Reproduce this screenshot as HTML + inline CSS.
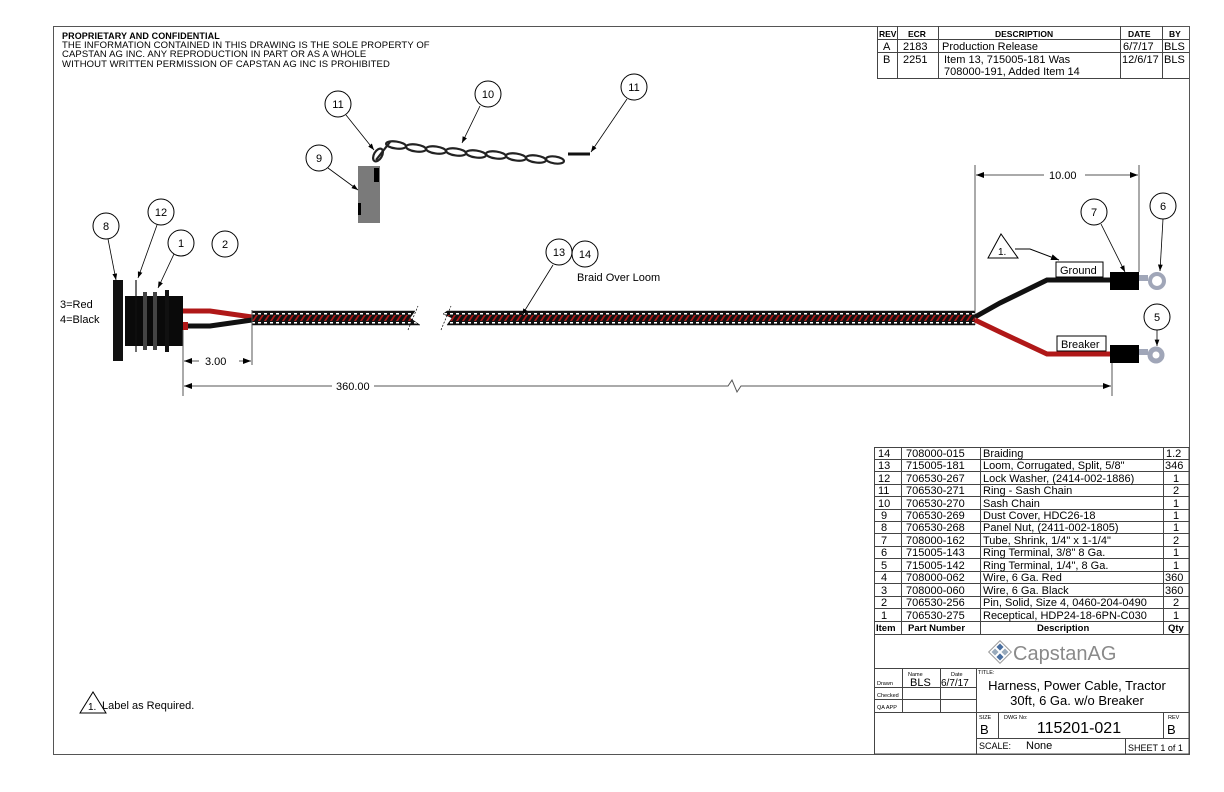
<!DOCTYPE html>
<html><head><meta charset="utf-8"><style>
body{margin:0;background:#fff}
svg{display:block}
text{font-family:"Liberation Sans",sans-serif;fill:#000}
</style></head><body>
<svg width="1224" height="792" viewBox="0 0 1224 792" xmlns="http://www.w3.org/2000/svg">
<defs>
<pattern id="br" width="6" height="14" patternUnits="userSpaceOnUse" y="311">
<rect width="6" height="14" fill="#111"/>
<rect x="0" y="2" width="3" height="1.5" fill="#fff"/>
<rect x="0" y="11" width="3" height="1.5" fill="#fff"/>
<path d="M0 10 L4 4 L6 4 L2 10Z" fill="#b01818"/>
</pattern>
<marker id="ar" markerWidth="8" markerHeight="6" refX="8" refY="3" orient="auto"><path d="M0 0L8 3L0 6Z" fill="#000"/></marker>
</defs>
<g fill="none" stroke="#555" stroke-width="1">
<rect x="53.5" y="26.5" width="1136" height="728"/>
</g>
<g font-size="9.5" letter-spacing="0.1">
<text x="62" y="39" font-size="9" font-weight="bold">PROPRIETARY AND CONFIDENTIAL</text>
<text x="62" y="48">THE INFORMATION CONTAINED IN THIS DRAWING IS THE SOLE PROPERTY OF</text>
<text x="62" y="57">CAPSTAN AG INC. ANY REPRODUCTION IN PART OR AS A WHOLE</text>
<text x="62" y="67">WITHOUT WRITTEN PERMISSION OF CAPSTAN AG INC IS PROHIBITED</text>
</g>

<!-- revision table -->
<g stroke="#444" stroke-width="1" fill="none">
<path d="M877.5 26.5V78.5H1189 M877 39.5H1189 M877 52.5H1189 M897.5 26V78 M938.5 26V78 M1120.5 26V78 M1162.5 26V78"/>
</g>
<g font-size="11">
<text x="879" y="37" font-size="8.5" font-weight="bold">REV</text>
<text x="908" y="37" font-size="8.5" font-weight="bold">ECR</text>
<text x="995" y="37" font-size="8.5" font-weight="bold">DESCRIPTION</text>
<text x="1128" y="37" font-size="8.5" font-weight="bold">DATE</text>
<text x="1169" y="37" font-size="8.5" font-weight="bold">BY</text>
<text x="883" y="50">A</text><text x="903" y="50">2183</text><text x="942" y="50">Production Release</text><text x="1123" y="50">6/7/17</text><text x="1164" y="50">BLS</text>
<text x="883" y="63">B</text><text x="903" y="63">2251</text><text x="944" y="63">Item 13, 715005-181 Was</text><text x="1122" y="63">12/6/17</text><text x="1164" y="63">BLS</text>
<text x="944" y="75">708000-191, Added Item 14</text>
</g>

<!-- parts list -->
<g stroke="#444" stroke-width="1" fill="none">
<rect x="874.5" y="447.5" width="314.5" height="306.5"/>
<path d="M874 459.5H1189M874 471.5H1189M874 484.5H1189M874 496.5H1189M874 509.5H1189M874 521.5H1189M874 533.5H1189M874 546.5H1189M874 558.5H1189M874 571.5H1189M874 583.5H1189M874 596.5H1189M874 608.5H1189M874 621.5H1189M874 634.5H1189M874 668.5H1189"/>
<path d="M901.5 447V634M980.5 447V634M1163.5 447V634"/>
<path d="M874 687.5H976M874 699.5H976M874 712.5H1189M902.5 668V712M940.5 668V712M976.5 668V754M976 738.5H1189M998.5 712V738M1163.5 712V738M1125.5 738V754"/>
</g>
<g font-size="11">
<text x="878" y="457">14</text><text x="906" y="457">708000-015</text><text x="983" y="457">Braiding</text><text x="1166" y="457">1.2</text>
<text x="878" y="469">13</text><text x="906" y="469">715005-181</text><text x="983" y="469">Loom, Corrugated, Split, 5/8"</text><text x="1165" y="469">346</text>
<text x="878" y="482">12</text><text x="906" y="482">706530-267</text><text x="983" y="482">Lock Washer, (2414-002-1886)</text><text x="1173" y="482">1</text>
<text x="878" y="494">11</text><text x="906" y="494">706530-271</text><text x="983" y="494">Ring - Sash Chain</text><text x="1173" y="494">2</text>
<text x="878" y="507">10</text><text x="906" y="507">706530-270</text><text x="983" y="507">Sash Chain</text><text x="1173" y="507">1</text>
<text x="881" y="519">9</text><text x="906" y="519">706530-269</text><text x="983" y="519">Dust Cover, HDC26-18</text><text x="1173" y="519">1</text>
<text x="881" y="531">8</text><text x="906" y="531">706530-268</text><text x="983" y="531">Panel Nut, (2411-002-1805)</text><text x="1173" y="531">1</text>
<text x="881" y="544">7</text><text x="906" y="544">708000-162</text><text x="983" y="544">Tube, Shrink, 1/4" x 1-1/4"</text><text x="1173" y="544">2</text>
<text x="881" y="556">6</text><text x="906" y="556">715005-143</text><text x="983" y="556">Ring Terminal, 3/8" 8 Ga.</text><text x="1173" y="556">1</text>
<text x="881" y="569">5</text><text x="906" y="569">715005-142</text><text x="983" y="569">Ring Terminal, 1/4", 8 Ga.</text><text x="1173" y="569">1</text>
<text x="881" y="581">4</text><text x="906" y="581">708000-062</text><text x="983" y="581">Wire, 6 Ga. Red</text><text x="1165" y="581">360</text>
<text x="881" y="594">3</text><text x="906" y="594">708000-060</text><text x="983" y="594">Wire, 6 Ga. Black</text><text x="1165" y="594">360</text>
<text x="881" y="606">2</text><text x="906" y="606">706530-256</text><text x="983" y="606">Pin, Solid, Size 4, 0460-204-0490</text><text x="1173" y="606">2</text>
<text x="881" y="619">1</text><text x="906" y="619">706530-275</text><text x="983" y="619">Receptical, HDP24-18-6PN-C030</text><text x="1173" y="619">1</text>
<g font-weight="bold" font-size="9.5"><text x="876" y="631">Item</text><text x="908" y="631">Part Number</text><text x="1037" y="631">Description</text><text x="1168" y="631">Qty</text></g>
</g>
<!-- logo -->
<g transform="translate(1000,652) rotate(45)">
<rect x="-8" y="-8" width="16" height="16" fill="#fff" stroke="#999"/>
<rect x="-6" y="-6" width="5" height="5" fill="#4a6fa0"/><rect x="1" y="-6" width="5" height="5" fill="#9ab"/>
<rect x="-6" y="1" width="5" height="5" fill="#9ab"/><rect x="1" y="1" width="5" height="5" fill="#4a6fa0"/>
</g>
<text x="1013" y="660" font-size="20" style="fill:#8a8a8a">CapstanAG</text>
<g font-size="5.5" style="fill:#444">
<text x="908" y="676">Name</text><text x="951" y="676">Date</text><text x="978" y="674">TITLE:</text>
<text x="877" y="685">Drawn</text><text x="877" y="697">Checked</text><text x="877" y="709">QA APP</text>
<text x="979" y="719">SIZE</text><text x="1004" y="719">DWG No:</text><text x="1168" y="719">REV</text>
</g>
<text x="910" y="686" font-size="11">BLS</text><text x="941" y="686" font-size="10">6/7/17</text>
<text x="1077" y="690" font-size="13" text-anchor="middle">Harness, Power Cable, Tractor</text>
<text x="1077" y="705" font-size="13" text-anchor="middle">30ft, 6 Ga. w/o Breaker</text>
<text x="980" y="734" font-size="13">B</text><text x="1167" y="734" font-size="13">B</text>
<text x="1079" y="733" font-size="16" text-anchor="middle">115201-021</text>
<text x="979" y="749" font-size="9">SCALE:</text><text x="1026" y="749" font-size="11">None</text>
<text x="1128" y="751" font-size="9">SHEET 1 of 1</text>

<!-- note -->
<path d="M80 713L93 692L106 713Z" fill="none" stroke="#000"/>
<text x="88" y="710" font-size="10">1.</text>
<text x="102" y="709" font-size="11">Label as Required.</text>

<!-- connector -->
<rect x="113" y="280" width="10" height="81" fill="#111"/>
<rect x="125" y="296" width="58" height="50" fill="#0a0a0a"/>
<rect x="143" y="292" width="4" height="58" fill="#444"/>
<rect x="153" y="292" width="4" height="58" fill="#444"/>
<rect x="165" y="290" width="4" height="62" fill="#111"/>
<line x1="136" y1="280" x2="136" y2="352" stroke="#111" stroke-width="1.2"/>
<text x="60" y="308" font-size="11">3=Red</text>
<text x="60" y="323" font-size="11">4=Black</text>
<path d="M183 311 L210 311 L252 317" stroke="#b01818" stroke-width="5" fill="none"/>
<path d="M183 326 L210 326 L252 320" stroke="#111" stroke-width="5" fill="none"/>
<rect x="183" y="322" width="5" height="8" fill="#b01818"/>
<!-- cable -->
<path d="M252 311 H415 L410 318 L420 325 H252Z" fill="url(#br)" stroke="#111" stroke-width="0.5"/>
<path d="M447 311 H975 V325 H447 L452 318 L443 314Z" fill="url(#br)" stroke="#111" stroke-width="0.5"/>
<g stroke="#000" stroke-width="0.7" stroke-dasharray="2 1.5" fill="none">
<path d="M408 330 L418 306 M441 330 L451 306"/>
</g>
<line x1="252" y1="310" x2="252" y2="365" stroke="#555"/>
<!-- branches -->
<path d="M975 317 L1000 303 L1047 280 H1110" stroke="#111" stroke-width="5" fill="none"/>
<path d="M975 320 L1000 332 L1047 354 H1110" stroke="#b01818" stroke-width="5" fill="none"/>
<rect x="1110" y="272" width="29" height="18" fill="#000"/>
<rect x="1110" y="345" width="29" height="18" fill="#000"/>
<path d="M1139 278 H1148" stroke="#a0a6b8" stroke-width="6"/>
<circle cx="1157" cy="281" r="7" fill="none" stroke="#a0a6b8" stroke-width="4"/>
<path d="M1139 352 H1148" stroke="#a0a6b8" stroke-width="6"/>
<circle cx="1156" cy="355" r="6" fill="none" stroke="#a0a6b8" stroke-width="5"/>
<rect x="1056" y="262" width="47" height="15" fill="#fff" stroke="#000"/>
<text x="1060" y="274" font-size="11">Ground</text>
<rect x="1057" y="336" width="49" height="15" fill="#fff" stroke="#000"/>
<text x="1061" y="348" font-size="11">Breaker</text>
<path d="M988 258L1001 234L1018 258Z" fill="#fff" stroke="#000"/>
<text x="998" y="255" font-size="10">1.</text>
<path d="M1015 249 H1030 L1059 260" stroke="#000" fill="none" marker-end="url(#ar)"/>
<!-- dimensions -->
<g stroke="#555" stroke-width="1" fill="none">
<line x1="975" y1="165" x2="975" y2="312"/>
<line x1="1139" y1="165" x2="1139" y2="272"/>
<line x1="183" y1="330" x2="183" y2="396"/>
<line x1="1112" y1="363" x2="1112" y2="396"/>
<path d="M976 175H1044 M1085 175H1138" marker-end="url(#ar)"/>
<path d="M1044 175H976" marker-end="url(#ar)"/>
<path d="M184 361H199 M239 361H251" />
<path d="M199 361H184" marker-end="url(#ar)"/><path d="M240 361H251" marker-end="url(#ar)"/>
<path d="M332 386H184" marker-end="url(#ar)"/>
<path d="M374 386H728 L732 380 L737 392 L741 386 H1111" marker-end="url(#ar)"/>
</g>
<text x="1049" y="179" font-size="11">10.00</text>
<text x="205" y="365" font-size="11">3.00</text>
<text x="336" y="390" font-size="11">360.00</text>
<text x="577" y="281" font-size="11">Braid Over Loom</text>
<!-- dust cover & chain -->
<rect x="358" y="166" width="22" height="57" fill="#7a7a7a"/>
<rect x="358" y="203" width="3" height="12" fill="#000"/>
<rect x="374" y="168" width="5" height="14" fill="#000"/>
<g fill="none" stroke="#222" stroke-width="2.2">
<path d="M376 160 L390 142"/>
<ellipse cx="396" cy="145" rx="10" ry="3.5" transform="rotate(8 396 145)"/>
<ellipse cx="416" cy="148" rx="10" ry="3.5" transform="rotate(8 416 148)"/>
<ellipse cx="436" cy="150" rx="10" ry="3.5" transform="rotate(8 436 150)"/>
<ellipse cx="456" cy="152" rx="10" ry="3.5" transform="rotate(8 456 152)"/>
<ellipse cx="476" cy="154" rx="10" ry="3.5" transform="rotate(8 476 154)"/>
<ellipse cx="496" cy="155" rx="10" ry="3.5" transform="rotate(8 496 155)"/>
<ellipse cx="516" cy="157" rx="10" ry="3.5" transform="rotate(8 516 157)"/>
<ellipse cx="536" cy="159" rx="10" ry="3.5" transform="rotate(8 536 159)"/>
<ellipse cx="555" cy="160" rx="9" ry="3.5" transform="rotate(8 555 160)"/>
<ellipse cx="378" cy="155" rx="4" ry="7" transform="rotate(30 378 155)"/>
</g>
<path d="M568 154 H590" stroke="#111" stroke-width="3"/>
<!-- balloons -->
<g fill="#fff" stroke="#000" stroke-width="1">
<circle cx="106" cy="226" r="13"/><circle cx="161" cy="212" r="13"/><circle cx="181" cy="243" r="13"/><circle cx="225" cy="244" r="13"/>
<circle cx="338" cy="104" r="13"/><circle cx="488" cy="94" r="13"/><circle cx="634" cy="87" r="13"/><circle cx="319" cy="158" r="13"/>
<circle cx="559" cy="252" r="13"/><circle cx="585" cy="254" r="13"/><circle cx="1094" cy="212" r="13"/><circle cx="1163" cy="206" r="13"/><circle cx="1157" cy="317" r="13"/>
</g>
<g stroke="#000" stroke-width="0.8" fill="none" marker-end="url(#ar)">
<path d="M108 239 L116 280"/><path d="M157 225 L138 278"/><path d="M174 254 L158 288"/>
<path d="M346 115 L374 150"/><path d="M480 106 L462 143"/><path d="M627 99 L591 152"/><path d="M328 168 L358 190"/>
<path d="M553 265 L522 315"/><path d="M1101 224 L1125 272"/><path d="M1163 219 L1160 271"/><path d="M1157 330 L1157 346"/>
</g>
<g font-size="11" text-anchor="middle">
<text x="106" y="230">8</text><text x="161" y="216">12</text><text x="181" y="247">1</text><text x="225" y="248">2</text>
<text x="338" y="108">11</text><text x="488" y="98">10</text><text x="634" y="91">11</text><text x="319" y="162">9</text>
<text x="559" y="256">13</text><text x="585" y="258">14</text><text x="1094" y="216">7</text><text x="1163" y="210">6</text><text x="1157" y="321">5</text>
</g>
</svg>
</body></html>
